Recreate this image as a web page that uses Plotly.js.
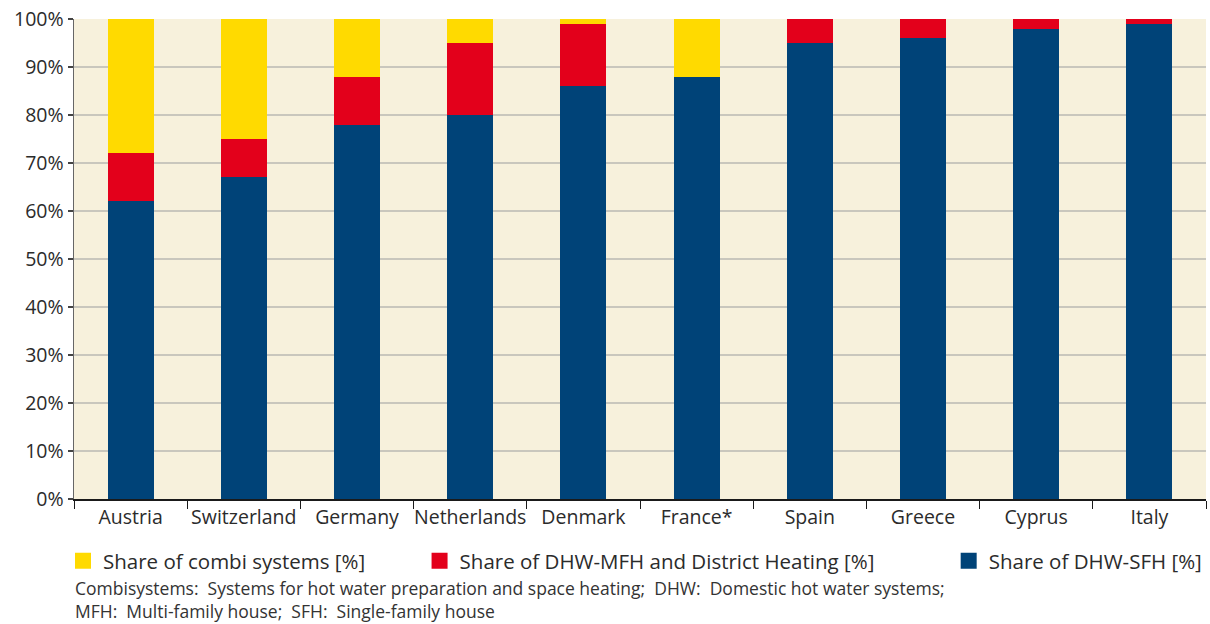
<!DOCTYPE html>
<html>
<head>
<meta charset="utf-8">
<script src="https://cdn.plot.ly/plotly-3.0.1.min.js"></script>
<style>
  html, body { margin: 0; padding: 0; background: #ffffff; }
  #chart { width: 1210px; height: 624px; }
</style>
</head>
<body>
<div id="chart"></div>
<script>
const countries = ["Austria", "Switzerland", "Germany", "Netherlands", "Denmark", "France*", "Spain", "Greece", "Cyprus", "Italy"];
const shareSFH = [62, 67, 78, 80, 86, 88, 95, 96, 98, 99];
const shareMFH = [10, 8, 10, 15, 13, 0, 5, 4, 2, 1];
const shareCombi = [28, 25, 12, 5, 1, 12, 0, 0, 0, 0];
const seriesNames = ["Share of DHW-SFH [%]", "Share of DHW-MFH and District Heating [%]", "Share of combi systems [%]"];
const seriesColors = ["#004378", "#E3001B", "#FFDA00"];
const noteLines = [
  "Combisystems:  Systems for hot water preparation and space heating;  DHW:  Domestic hot water systems;",
  "MFH:  Multi-family house;  SFH:  Single-family house"
];

const FONT = "'Open Sans', 'Noto Sans', sans-serif";
const TXT = "#2b2b2b";
const seriesValues = [shareSFH, shareMFH, shareCombi];
const legendIds = ["legend3", "legend2", "legend"];

const traces = [];
seriesValues.forEach(function (vals, i) {
  traces.push({ type: "bar", x: countries, y: vals, name: seriesNames[i], marker: { color: seriesColors[i] }, showlegend: false, hoverinfo: "x+y+name" });
});
// legend entries with larger square keys
seriesValues.forEach(function (vals, i) {
  traces.push({ type: "scatter", mode: "markers", x: [null], y: [null], name: seriesNames[i], legend: legendIds[i],
    marker: { symbol: "square", size: 17, color: seriesColors[i], line: { width: 0 } }, hoverinfo: "skip" });
});

const legendBase = { orientation: "h", yanchor: "middle", xanchor: "left", y: -0.129, bgcolor: "rgba(0,0,0,0)", font: { family: FONT, size: 20.5, color: TXT } };

const layout = {
  width: 1210,
  height: 624,
  margin: { l: 74, r: 3, t: 19, b: 125 },
  paper_bgcolor: "#ffffff",
  plot_bgcolor: "#F7F1DC",
  barmode: "stack",
  bargap: 0.595,
  font: { family: FONT, color: TXT },
  showlegend: true,
  legend: Object.assign({}, legendBase, { x: -0.0097 }),
  legend2: Object.assign({}, legendBase, { x: 0.305 }),
  legend3: Object.assign({}, legendBase, { x: 0.772 }),
  xaxis: {
    type: "category",
    showline: true,
    linecolor: "#1a1a1a",
    linewidth: 1.5,
    ticks: "outside",
    tickson: "boundaries",
    ticklen: 8,
    tickcolor: "#1a1a1a",
    tickwidth: 1,
    tickangle: 0,
    showgrid: false,
    zeroline: false,
    tickfont: { family: FONT, size: 19.5, color: TXT },
    fixedrange: true
  },
  yaxis: {
    range: [0, 100],
    dtick: 10,
    tick0: 0,
    ticksuffix: "%",
    showline: true,
    linecolor: "#666666",
    linewidth: 1.5,
    ticks: "outside",
    ticklen: 5,
    tickcolor: "#444444",
    tickwidth: 1.5,
    showgrid: true,
    gridcolor: "#C9C7BD",
    gridwidth: 2,
    zeroline: false,
    tickfont: { family: FONT, size: 19.5, color: TXT },
    fixedrange: true
  },
  annotations: [
    { xref: "paper", yref: "paper", x: -0.001, y: -0.185, xanchor: "left", yanchor: "middle", showarrow: false, text: noteLines[0], font: { family: FONT, size: 17.5, color: "#333333" } },
    { xref: "paper", yref: "paper", x: -0.001, y: -0.2335, xanchor: "left", yanchor: "middle", showarrow: false, text: noteLines[1], font: { family: FONT, size: 17.5, color: "#333333" } }
  ]
};

Plotly.newPlot("chart", traces, layout, { displayModeBar: false, staticPlot: true });
</script>
</body>
</html>
